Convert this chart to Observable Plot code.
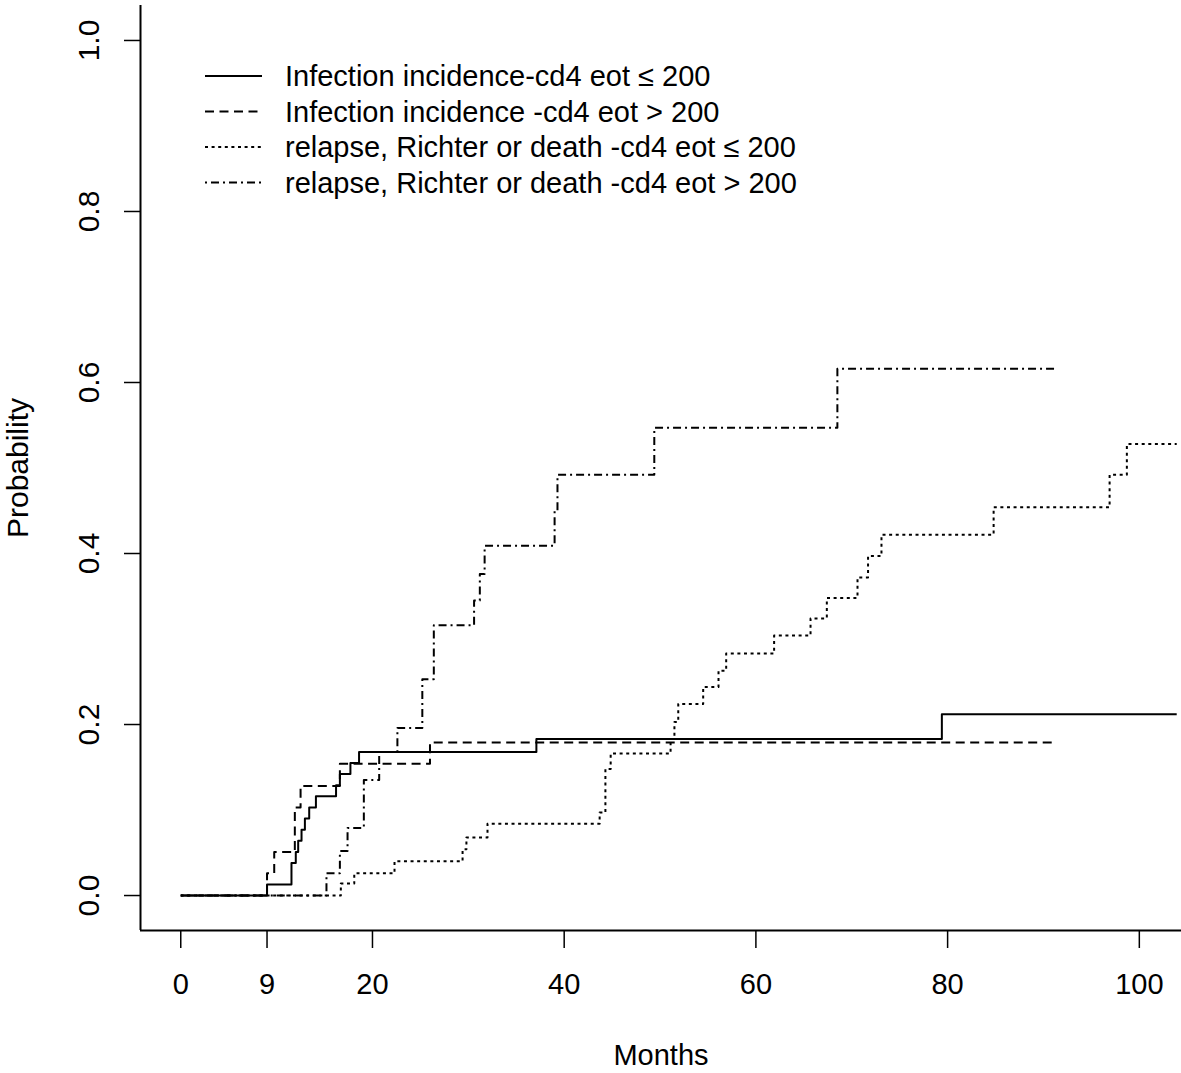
<!DOCTYPE html>
<html>
<head>
<meta charset="utf-8">
<script src="https://cdn.jsdelivr.net/npm/d3@7"></script>
<script src="https://cdn.jsdelivr.net/npm/@observablehq/plot@0.6"></script>
<style>
  html, body { margin: 0; padding: 0; background: #fff; }
  #chart svg { display: block; }
</style>
</head>
<body>
<div id="chart"></div>
<script>
// ---- Data ----
const seriesLabels = [
  "Infection incidence-cd4 eot \u2264 200",
  "Infection incidence -cd4 eot > 200",
  "relapse, Richter or death -cd4 eot \u2264 200",
  "relapse, Richter or death -cd4 eot > 200"
];

const infLowMonths = [0, 9.0, 11.55, 12.0, 12.25, 12.6, 12.95, 13.4, 14.1, 16.2, 16.6, 17.7, 18.6, 37.1, 79.4, 103.9];
const infLowProb   = [0, 0.013, 0.038, 0.051, 0.064, 0.077, 0.090, 0.103, 0.116, 0.129, 0.142, 0.155, 0.168, 0.183, 0.212, 0.212];

const infHighMonths = [0, 9.0, 9.75, 11.9, 12.5, 16.6, 26.0, 91.4];
const infHighProb   = [0, 0.026, 0.051, 0.103, 0.128, 0.154, 0.179, 0.179];

const relLowMonths = [0, 16.7, 18.1, 22.3, 29.4, 29.8, 32.0, 43.7, 44.3, 44.85, 51.1, 51.5, 51.9, 54.5, 56.1, 56.9, 61.9, 65.7, 67.4, 70.6, 71.7, 73.1, 84.8, 96.9, 98.7, 103.9];
const relLowProb   = [0, 0.014, 0.026, 0.040, 0.054, 0.068, 0.084, 0.097, 0.148, 0.166, 0.183, 0.203, 0.224, 0.244, 0.263, 0.283, 0.304, 0.324, 0.348, 0.372, 0.397, 0.422, 0.454, 0.492, 0.528, 0.528];

const relHighMonths = [0, 15.2, 16.6, 17.4, 19.1, 20.7, 22.6, 25.2, 26.4, 30.6, 31.2, 31.7, 39.0, 39.3, 49.4, 68.5, 91.3];
const relHighProb   = [0, 0.026, 0.052, 0.079, 0.135, 0.168, 0.196, 0.253, 0.316, 0.345, 0.376, 0.409, 0.450, 0.492, 0.547, 0.616, 0.616];

const xTicks = [0, 9, 20, 40, 60, 80, 100];
const yTicks = [0, 0.2, 0.4, 0.6, 0.8, 1.0];

// ---- Styles ----
const lineDashes = ["none", "9,5.5", "3,3.6", "2,4,8,4"];
const fontFamily = "'Liberation Sans', Arial, Helvetica, sans-serif";
const xDomain = [-4.2, 104.4];
const yDomain = [-0.0409, 1.0409];

const toRows = (months, probs) => months.map((m, i) => ({month: m, prob: probs[i]}));
const seriesData = [
  toRows(infLowMonths, infLowProb),
  toRows(infHighMonths, infHighProb),
  toRows(relLowMonths, relLowProb),
  toRows(relHighMonths, relHighProb)
];

const chart = Plot.plot({
  width: 1181,
  height: 1073,
  marginLeft: 140,
  marginRight: 0,
  marginTop: 5,
  marginBottom: 143,
  style: {fontFamily, fontSize: "29px", color: "#000", background: "#fff"},
  x: {domain: xDomain},
  y: {domain: yDomain},
  marks: [
    Plot.ruleX([xDomain[0]], {stroke: "#000", strokeWidth: 2}),
    Plot.ruleY([yDomain[0]], {stroke: "#000", strokeWidth: 2}),
    Plot.axisX({
      ticks: xTicks, tickSize: 18, tickPadding: 25, strokeWidth: 1.5,
      tickFormat: d => String(d), fontSize: 29,
      label: "Months", labelAnchor: "center", labelOffset: 134, labelArrow: "none"
    }),
    Plot.axisY({
      ticks: yTicks, tickSize: 16, tickPadding: 26, tickRotate: -90, strokeWidth: 1.5,
      tickFormat: d => d.toFixed(1), fontSize: 30,
      label: "Probability", labelAnchor: "center", labelOffset: 134, labelArrow: "none"
    }),
    ...seriesData.map((rows, i) => Plot.line(rows, {
      x: "month", y: "prob", curve: "step-after",
      stroke: "#000", strokeWidth: 2, strokeDasharray: lineDashes[i], strokeLinecap: "butt"
    }))
  ]
});

// ---- Legend (top-left inside the plot area) ----
const legend = {x0: 205, x1: 262, textX: 285, y0: 76, step: 35.5, fontSize: 29};
const svg = d3.select(chart);
const g = svg.append("g")
  .attr("font-family", fontFamily)
  .attr("font-size", legend.fontSize)
  .attr("text-anchor", "start");
seriesLabels.forEach((label, i) => {
  const y = legend.y0 + i * legend.step;
  g.append("line")
    .attr("x1", legend.x0).attr("x2", legend.x1)
    .attr("y1", y).attr("y2", y)
    .attr("stroke", "#000").attr("stroke-width", 2)
    .attr("stroke-dasharray", lineDashes[i]);
  g.append("text")
    .attr("x", legend.textX).attr("y", y).attr("dy", "0.35em")
    .attr("text-anchor", "start")
    .attr("fill", "#000")
    .text(label);
});

document.getElementById("chart").appendChild(chart);
</script>
</body>
</html>
